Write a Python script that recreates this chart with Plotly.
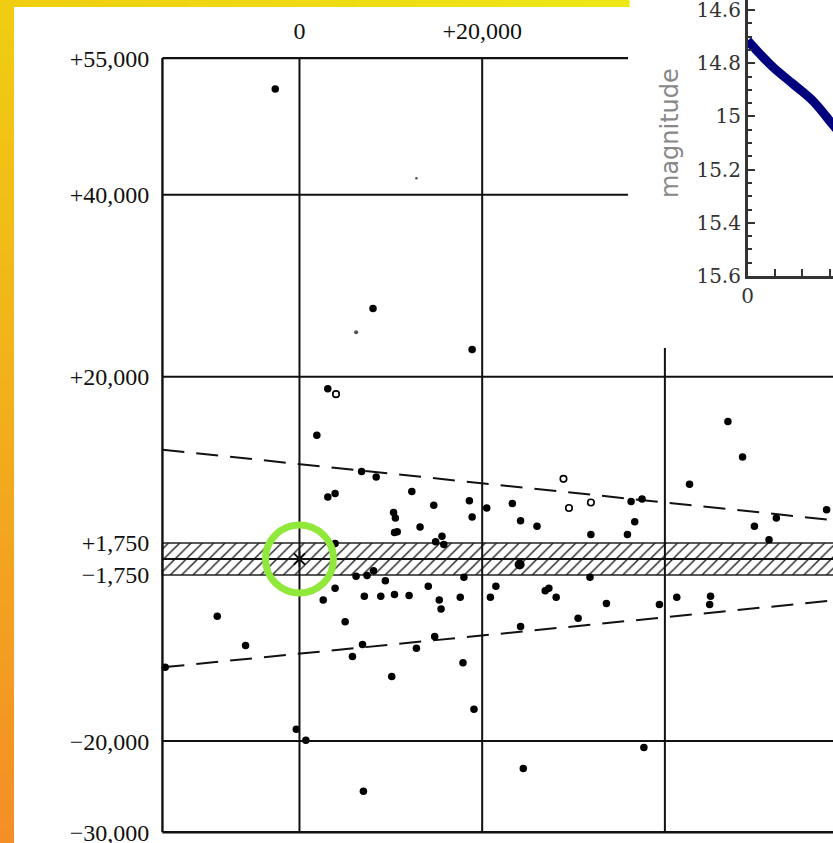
import plotly.graph_objects as go

# ---------------- main diagram data ----------------
dots_x = [-2650, 8050, 18900, 3100, 1900, 6800, 8400, 3100, 3900, 12300, 18600, 18900,
          14700, 20500, 23300, 36300, 37500, 46900, 48500, 42700, 57700, 24200, 26000,
          13200, 36700, 49800, 52200, 31900, 35900, 51400, 15600, 14900, 15800, 10300,
          10500, 10400, 10700, 3900, 18000, 31800, 14100, 21500, 6200, 7400, 8100,
          9400, 3900, 2600, 7100, 8900, 10400, 12000, 15300, 15500, 17600, 20900, 26900,
          27300, 28100, 33600, 39400, 41300, 45000, 44900, 30500, 24200, 14800, 12800,
          17900, 10100, 19100, -9000, -5900, 5000, 6900, 5800, -350, 700, 7000, 24500,
          37700, -14700]
dots_y = [51600, 27500, 23000, 18700, 13600, 9600, 9000, 6800, 7200, 7400, 6400, 4600,
          5900, 5600, 6100, 6300, 6600, 15100, 11200, 8200, 5400, 4200, 3600,
          3500, 4100, 3600, 4500, 2700, 2700, 2100, 2500, 1900, 1600, 5100,
          4500, 2900, 3000, 1700, -2000, -2000, -3000, -3000, -1900, -1800, -1300,
          -2400, -3200, -4500, -4100, -4100, -3900, -4000, -4500, -5500, -4200, -4200, -3500,
          -3200, -4200, -4900, -5000, -4200, -4100, -5000, -6500, -7400, -8500, -9800,
          -11400, -12900, -16500, -6300, -9500, -6900, -9400, -10700, -18700, -19900, -25500, -23000,
          -20700, -11900]
big_x = [24100]
big_y = [-600]
open_x = [4000, 28900, 29500, 31900]
open_y = [18100, 8800, 5600, 6200]
small_x = [6200, 12800]
small_y = [24900, 41800]
small_size = [4, 2.5]
star_x = [0]
star_y = [0]

band_half = 1750
upper_x = [-15000, 60000]
upper_y = [12000, 4100]
lower_x = [-15000, 60000]
lower_y = [-11900, -4400]

y_tickvals = [55000, 40000, 20000, 1750, -1750, -20000, -30000]
y_ticktext = ["+55,000", "+40,000", "+20,000", "+1,750", "\u22121,750", "\u221220,000", "\u221230,000"]
x_tickvals = [0, 20000]
x_ticktext = ["0", "+20,000"]

frame_x = [-15000]          # left frame
frame_y = [55000, -30000]   # top / bottom frame
grid_x = [0, 20000, 40000]
grid_y = [40000, 20000, 0, -20000]

# ---------------- inset data ----------------
curve_t = [0, 0.45, 0.94, 1.67, 2.40, 3.12, 3.5]
curve_mag = [14.714, 14.765, 14.816, 14.879, 14.943, 15.032, 15.08]

# ---------------- geometry (pixels of 833x843 canvas) ----------------
W, H = 833, 843
XR = [-16000, 58402]
XDOM = [153.3 / W, 1.0]
YR = [-31000, 56000]
YDOM = [1 - 841.3 / H, 1 - 49.0 / H]
INSET_LEFT = 628 / W
INSET_BOTTOM = 1 - 348 / H


def xpaper(v):
    return XDOM[0] + (v - XR[0]) / (XR[1] - XR[0]) * (XDOM[1] - XDOM[0])


def ypaper(v):
    return YDOM[0] + (v - YR[0]) / (YR[1] - YR[0]) * (YDOM[1] - YDOM[0])


fig = go.Figure()

# hatched band
fig.add_trace(go.Scatter(
    x=[XR[0] + 1000, 70000, 70000, XR[0] + 1000, XR[0] + 1000],
    y=[band_half, band_half, -band_half, -band_half, band_half],
    mode="lines", fill="toself",
    fillpattern=dict(shape="/", size=8, solidity=0.18, fgcolor="#222",
                     bgcolor="white", fillmode="replace"),
    line=dict(color="#222", width=1.5), hoverinfo="skip"))

# dashed envelope lines
for lx, ly in [(upper_x, upper_y), (lower_x, lower_y)]:
    fig.add_trace(go.Scatter(x=lx, y=ly, mode="lines",
                             line=dict(color="#111", width=2, dash="22px,12px"),
                             hoverinfo="skip"))

fig.add_trace(go.Scatter(x=dots_x, y=dots_y, mode="markers",
                         marker=dict(color="black", size=7.5, line=dict(width=0))))
fig.add_trace(go.Scatter(x=big_x, y=big_y, mode="markers",
                         marker=dict(color="black", size=10, line=dict(width=0))))
fig.add_trace(go.Scatter(x=small_x, y=small_y, mode="markers",
                         marker=dict(color="black", size=small_size, line=dict(width=0))))
fig.add_trace(go.Scatter(x=open_x, y=open_y, mode="markers",
                         marker=dict(symbol="circle-open", color="black", size=6.5,
                                     line=dict(width=1.6, color="black"))))
fig.add_trace(go.Scatter(x=star_x, y=star_y, mode="markers",
                         marker=dict(symbol="asterisk-open", size=13, color="black",
                                     line=dict(width=1.8, color="black"))))

# inset curve
fig.add_trace(go.Scatter(x=curve_t, y=curve_mag, mode="lines", xaxis="x2", yaxis="y2",
                         line=dict(color="#00007f", width=9, shape="spline")))

shapes = []
# background gradient strips (left & top)
N = 60
c_top = (240, 205, 18)
c_bot = (244, 143, 38)
for i in range(N):
    t = i / (N - 1)
    c = tuple(int(round(a + (b - a) * t)) for a, b in zip(c_top, c_bot))
    shapes.append(dict(type="rect", xref="paper", yref="paper", layer="below",
                       x0=0, x1=14 / W, y0=1 - (i + 1) / N - 0.002,
                       y1=1 - i / N, fillcolor="rgb(%d,%d,%d)" % c,
                       line=dict(width=0)))
c_right = (237, 232, 20)
M = 30
for i in range(M):
    t = i / (M - 1)
    c = tuple(int(round(a + (b - a) * t)) for a, b in zip(c_top, c_right))
    shapes.append(dict(type="rect", xref="paper", yref="paper", layer="below",
                       x0=i * 628 / M / W, x1=(i + 1) * 628 / M / W + 0.002,
                       y0=1 - 7 / H, y1=1, fillcolor="rgb(%d,%d,%d)" % c,
                       line=dict(width=0)))

LINE = dict(color="#111", width=2)
FRAME = dict(color="#111", width=2.4)
top_p = ypaper(frame_y[0])
bot_p = ypaper(frame_y[1])
for v in frame_x:
    shapes.append(dict(type="line", xref="x", yref="paper", x0=v, x1=v,
                       y0=bot_p, y1=top_p, line=FRAME))
for v in frame_y + grid_y:
    p = ypaper(v)
    x1 = INSET_LEFT if p > INSET_BOTTOM else 1
    shapes.append(dict(type="line", xref="paper", yref="paper",
                       x0=xpaper(frame_x[0]), x1=x1, y0=p, y1=p,
                       line=FRAME if v in frame_y else LINE))
for v in grid_x:
    p = xpaper(v)
    y1 = INSET_BOTTOM if p > INSET_LEFT else top_p
    shapes.append(dict(type="line", xref="paper", yref="paper",
                       x0=p, x1=p, y0=bot_p, y1=y1, line=LINE))

# green highlight ring around the origin
shapes.append(dict(type="circle", xref="x", yref="y", xsizemode="pixel",
                   ysizemode="pixel", xanchor=star_x[0], yanchor=star_y[0],
                   x0=-34, x1=34, y0=-34, y1=34, layer="above",
                   line=dict(color="#8fe83a", width=7)))

serif = "Liberation Serif"
fig.update_layout(
    width=W, height=H, margin=dict(l=0, r=0, t=0, b=0),
    paper_bgcolor="white", plot_bgcolor="rgba(0,0,0,0)", showlegend=False,
    shapes=shapes,
    xaxis=dict(domain=XDOM, range=XR, side="top", anchor="y",
               tickvals=x_tickvals, ticktext=x_ticktext, showgrid=False,
               zeroline=False, showline=False, ticks="", automargin=False,
               tickfont=dict(family=serif, size=24, color="#111"),
               ticklabelstandoff=4, ticklabeloverflow="allow"),
    yaxis=dict(domain=YDOM, range=YR, anchor="x", tickvals=y_tickvals,
               ticktext=y_ticktext, showgrid=False, zeroline=False,
               showline=False, ticks="", automargin=False,
               tickfont=dict(family=serif, size=24, color="#111"),
               ticklabelstandoff=3, ticklabeloverflow="allow"),
    xaxis2=dict(domain=[747.7 / W, 1], anchor="y2", range=[0, 3.12],
                showline=True, linecolor="#333", linewidth=2.5, ticks="inside",
                ticklen=7, tickwidth=2, tickcolor="#333", tick0=0, dtick=5,
                minor=dict(ticks="inside", ticklen=7, tickwidth=2,
                           tickcolor="#333", dtick=1),
                showgrid=False, zeroline=False, automargin=False,
                ticklabeloverflow="allow",
                tickfont=dict(family="DejaVu Serif", size=20, color="#333")),
    yaxis2=dict(domain=[1 - 276 / H, 1], anchor="x2", range=[15.6, 14.562],
                showline=True, linecolor="#333", linewidth=2.5, ticks="inside",
                ticklen=8, tickwidth=2, tickcolor="#333", tick0=14.6, dtick=0.2,
                minor=dict(ticks="inside", ticklen=4.5, tickwidth=2,
                           tickcolor="#333", dtick=0.05),
                showgrid=False, zeroline=False, automargin=False,
                ticklabeloverflow="allow",
                tickfont=dict(family="DejaVu Serif", size=20, color="#333")),
    annotations=[dict(text="magnitude", xref="paper", yref="paper",
                      x=670 / W, y=1 - 133 / H, xanchor="center", yanchor="middle",
                      showarrow=False, textangle=-90,
                      font=dict(family="DejaVu Sans", size=24, color="#888"))],
)

fig.write_html("out.html", config={"displayModeBar": False},
               post_script="document.body.style.margin='0';"
                           "document.body.style.overflow='hidden';")
